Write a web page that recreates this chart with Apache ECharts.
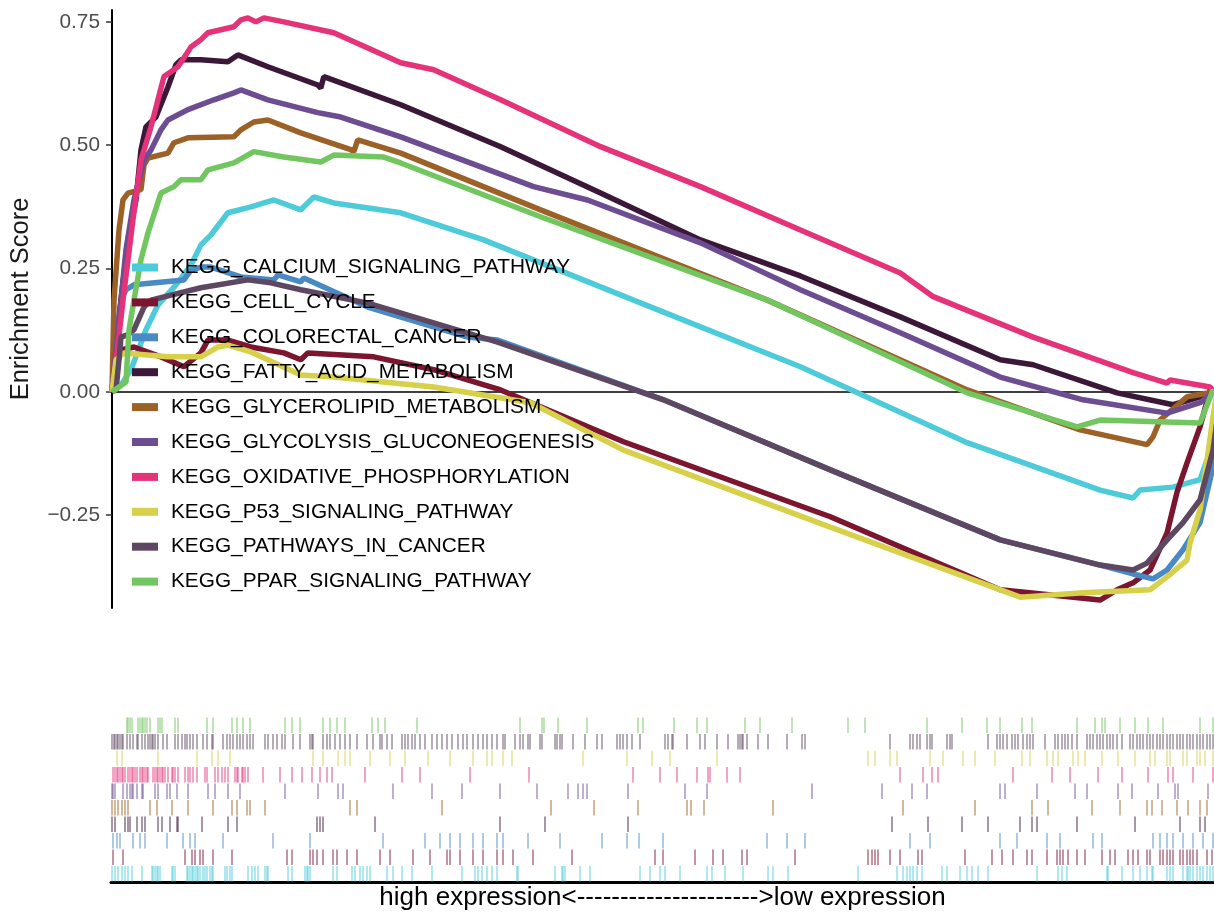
<!DOCTYPE html>
<html>
<head>
<meta charset="utf-8">
<title>GSEA KEGG</title>
<script src="https://cdn.jsdelivr.net/npm/echarts@6/dist/echarts.min.js"></script>
<style>
  html, body { margin: 0; padding: 0; background: #fff; }
  #chart { width: 1214px; height: 914px; }
</style>
</head>
<body>
<div id="chart"></div>
<script>
/* GSEA running enrichment score, 10 KEGG sets + hit rug below */

const FONT = "'Liberation Sans', Arial, Helvetica, sans-serif";

const setNames = [
  "KEGG_CALCIUM_SIGNALING_PATHWAY",
  "KEGG_CELL_CYCLE",
  "KEGG_COLORECTAL_CANCER",
  "KEGG_FATTY_ACID_METABOLISM",
  "KEGG_GLYCEROLIPID_METABOLISM",
  "KEGG_GLYCOLYSIS_GLUCONEOGENESIS",
  "KEGG_OXIDATIVE_PHOSPHORYLATION",
  "KEGG_P53_SIGNALING_PATHWAY",
  "KEGG_PATHWAYS_IN_CANCER",
  "KEGG_PPAR_SIGNALING_PATHWAY",
];
const setColors = [
  "#4ecbd9", "#7b1530", "#4a8ac4", "#3b1738", "#9b6126",
  "#6c4d92", "#e5337a", "#d6d04a", "#5e4760", "#72c660",
];

const yTicks = [-0.25, 0, 0.25, 0.5, 0.75];
const rankMax = 1103;

// running enrichment score: [rank, ES]
const esCalcium = [[0,0],[9,0.014],[19,0.045],[34,0.126],[46,0.176],[64,0.217],[79,0.257],[89,0.298],[99,0.318],[116,0.363],[139,0.375],[162,0.389],[189,0.369],[202,0.395],[222,0.383],[289,0.363],[372,0.308],[522,0.186],[689,0.051],[856,-0.103],[989,-0.199],[1022,-0.215],[1029,-0.199],[1062,-0.193],[1089,-0.178],[1096,-0.138],[1102,-0.118],[1110,0]];
const esCellCycle = [[0,0],[4,0.045],[9,0.085],[22,0.091],[49,0.071],[72,0.051],[89,0.079],[96,0.105],[116,0.105],[139,0.091],[172,0.079],[189,0.065],[196,0.079],[262,0.071],[322,0.045],[389,0.004],[512,-0.101],[719,-0.253],[889,-0.401],[989,-0.422],[1006,-0.401],[1022,-0.387],[1039,-0.361],[1056,-0.286],[1066,-0.203],[1076,-0.144],[1089,-0.071],[1099,0.004],[1103,0]];
const esColorectal = [[0,0],[4,0.105],[9,0.186],[14,0.207],[22,0.217],[72,0.227],[79,0.247],[89,0.253],[99,0.253],[129,0.233],[162,0.227],[166,0.237],[189,0.223],[192,0.231],[256,0.172],[356,0.111],[386,0.105],[552,-0.016],[719,-0.158],[889,-0.300],[989,-0.351],[1022,-0.369],[1042,-0.379],[1056,-0.361],[1072,-0.320],[1089,-0.265],[1102,-0.152],[1110,0]];
const esFattyAcid = [[0,0],[4,0.065],[9,0.186],[16,0.308],[24,0.389],[29,0.490],[34,0.537],[44,0.557],[56,0.618],[64,0.663],[69,0.673],[89,0.673],[116,0.669],[126,0.683],[156,0.659],[206,0.622],[209,0.616],[212,0.639],[289,0.582],[389,0.497],[489,0.403],[589,0.308],[689,0.235],[789,0.152],[889,0.065],[922,0.055],[1006,-0.002],[1062,-0.026],[1069,-0.022],[1089,-0.010],[1103,0]];
const esGlycerolipid = [[0,0],[2,0.186],[7,0.328],[11,0.389],[16,0.403],[29,0.410],[32,0.460],[36,0.474],[56,0.484],[62,0.505],[76,0.515],[122,0.517],[129,0.531],[142,0.547],[156,0.551],[189,0.525],[239,0.491],[242,0.487],[246,0.511],[289,0.484],[429,0.369],[656,0.186],[856,0.004],[969,-0.077],[1036,-0.107],[1042,-0.091],[1049,-0.057],[1076,-0.010],[1103,0]];
const esGlycolysis = [[0,0],[6,0.126],[14,0.288],[22,0.389],[32,0.470],[39,0.490],[49,0.531],[56,0.551],[76,0.572],[102,0.592],[122,0.606],[129,0.612],[156,0.592],[206,0.566],[229,0.557],[289,0.517],[422,0.416],[476,0.389],[589,0.302],[689,0.207],[789,0.120],[889,0.030],[972,-0.016],[1056,-0.043],[1089,-0.022],[1103,0]];
const esOxidative = [[0,0],[2,0.024],[11,0.186],[21,0.349],[29,0.470],[39,0.537],[46,0.592],[52,0.639],[59,0.649],[66,0.659],[74,0.683],[79,0.699],[89,0.714],[96,0.728],[109,0.734],[122,0.740],[129,0.754],[136,0.758],[144,0.750],[152,0.758],[172,0.750],[222,0.728],[289,0.667],[322,0.653],[389,0.592],[489,0.497],[589,0.416],[689,0.328],[789,0.241],[822,0.193],[922,0.111],[1022,0.039],[1056,0.018],[1059,0.024],[1099,0.010],[1103,0]];
const esP53 = [[0,0],[4,0.065],[12,0.079],[56,0.071],[89,0.071],[106,0.091],[116,0.095],[139,0.081],[189,0.034],[222,0.030],[322,0.010],[419,-0.022],[512,-0.118],[719,-0.274],[909,-0.416],[972,-0.407],[1039,-0.401],[1056,-0.375],[1076,-0.341],[1079,-0.306],[1089,-0.239],[1102,-0.051],[1106,0]];
const esPathways = [[0,0],[4,0.004],[7,0.065],[9,0.111],[16,0.116],[22,0.126],[32,0.172],[39,0.186],[49,0.191],[89,0.211],[136,0.227],[159,0.221],[189,0.207],[256,0.180],[386,0.101],[552,-0.016],[719,-0.158],[889,-0.300],[989,-0.351],[1022,-0.361],[1036,-0.347],[1056,-0.300],[1072,-0.265],[1089,-0.219],[1102,-0.118],[1110,0]];
const esPPAR = [[0,0],[14,0.020],[17,0.126],[22,0.186],[29,0.268],[36,0.322],[49,0.403],[62,0.416],[69,0.430],[89,0.430],[96,0.450],[122,0.464],[142,0.487],[172,0.476],[209,0.466],[222,0.480],[272,0.476],[289,0.464],[429,0.355],[656,0.186],[856,-0.002],[966,-0.071],[989,-0.057],[1089,-0.063],[1102,0.004],[1103,0]];

// hit positions (rank) for the rug
const hitsCalcium = [1,4,7,11,14,17,21,31,41,42,44,46,47,49,61,62,64,76,77,79,81,82,84,86,87,89,92,94,96,99,101,102,114,116,119,121,137,141,144,147,154,156,157,177,181,194,196,197,199,222,226,241,244,249,252,256,259,276,282,291,301,321,351,364,367,371,376,381,386,406,407,444,451,452,454,469,479,529,539,549,554,569,596,601,614,632,657,662,677,747,786,792,796,799,802,806,811,831,836,849,856,861,867,877,926,947,951,956,996,997,1011,1022,1029,1036,1041,1042,1056,1059,1062,1072,1076,1077,1079,1082,1086,1089,1092,1096,1099,1102];
const hitsCellCycle = [2,12,74,81,84,89,92,102,121,176,181,199,202,206,212,222,226,236,246,269,279,302,319,336,339,349,362,372,386,392,402,422,461,544,552,584,602,612,631,636,684,757,761,764,767,779,789,807,811,854,881,891,902,916,921,936,946,949,952,957,966,974,991,999,1004,1017,1022,1027,1036,1039,1049,1052,1056,1059,1062,1069,1072,1076,1079,1082,1086,1096,1101];
const hitsColorectal = [2,6,9,22,29,34,56,72,79,84,112,162,199,272,314,329,339,349,362,372,386,392,417,449,491,516,528,552,656,676,694,799,819,889,906,936,949,982,991,1042,1049,1056,1062,1072,1082,1092,1102];
const hitsFattyAcid = [1,4,14,17,19,26,31,34,47,51,59,66,67,91,117,126,206,209,212,264,389,434,517,781,817,851,877,909,921,926,966,1024,1069,1089,1094];
const hitsGlycerolipid = [1,4,7,11,14,17,39,46,61,77,102,121,126,136,139,154,239,246,331,440,483,527,576,580,593,662,792,864,921,937,981,1009,1036,1041,1051,1066,1077,1089,1096];
const hitsGlycolysis = [1,2,4,12,16,19,21,22,26,31,32,44,47,56,59,66,77,97,104,117,129,174,207,227,232,282,321,351,389,426,457,467,472,476,517,574,596,701,771,801,816,889,894,926,964,976,1007,1021,1047,1064,1067,1097];
const hitsOxidative = [2,4,6,7,9,11,12,14,17,19,21,22,24,26,29,31,32,34,36,37,42,44,46,47,49,51,52,54,57,61,62,64,67,74,77,79,82,86,94,96,104,107,111,114,117,124,126,127,131,132,134,137,152,169,181,191,201,209,216,221,254,291,309,359,418,522,549,566,586,597,599,616,629,789,812,821,827,902,941,959,987,1011,1037,1057,1062,1082,1102];
const hitsP53 = [6,11,47,86,101,107,119,202,212,227,234,239,259,279,294,317,339,362,376,381,392,401,472,516,541,559,606,757,764,779,786,819,832,852,864,884,911,919,936,942,947,962,967,974,991,1007,1024,1039,1044,1056,1059,1072,1076,1086,1089,1094,1102];
const hitsPathways = [1,3,4,6,7,9,11,12,16,19,22,26,27,31,34,37,39,41,42,44,47,52,56,64,67,71,74,76,79,82,86,92,96,101,102,112,116,119,122,126,129,132,136,139,142,154,157,162,166,171,174,182,189,199,201,202,212,216,219,224,229,234,239,246,256,262,269,271,276,281,291,294,297,301,304,309,314,321,326,331,336,341,347,352,356,362,367,372,376,381,386,392,394,404,409,412,417,419,429,431,444,446,449,451,462,474,486,491,506,509,512,516,521,529,554,557,561,562,576,589,594,606,617,627,629,631,632,636,647,657,676,691,694,779,799,802,806,809,816,819,821,836,839,841,877,886,889,892,896,901,904,907,912,916,919,922,934,944,947,951,954,957,961,966,976,979,982,986,989,992,996,999,1002,1006,1011,1019,1022,1026,1029,1032,1036,1039,1042,1046,1049,1052,1056,1059,1062,1066,1069,1072,1076,1079,1082,1086,1089,1092,1096,1099,1102];
const hitsPPAR = [16,17,19,21,27,29,31,32,34,36,39,47,49,51,64,67,96,102,121,126,132,139,174,181,189,212,219,226,234,261,267,274,306,409,431,433,447,476,527,532,563,586,596,634,649,681,737,754,816,851,876,889,911,921,966,984,991,994,1009,1024,1037,1052,1089,1102];

const esSeries = [esCalcium, esCellCycle, esColorectal, esFattyAcid, esGlycerolipid,
  esGlycolysis, esOxidative, esP53, esPathways, esPPAR];
const hitSeries = [hitsCalcium, hitsCellCycle, hitsColorectal, hitsFattyAcid, hitsGlycerolipid,
  hitsGlycolysis, hitsOxidative, hitsP53, hitsPathways, hitsPPAR];

const chart = echarts.init(document.getElementById("chart"), null, {renderer: "canvas"});

const lineSeries = setNames.map((name, i) => ({
  name: name,
  type: "line",
  xAxisIndex: 0,
  yAxisIndex: 0,
  data: esSeries[i],
  showSymbol: false,
  clip: true,
  lineStyle: {color: setColors[i], width: 5.5},
  itemStyle: {color: setColors[i]},
  z: 3,
}));

// rug: one row per set, index 0 at the bottom
const rugSeries = setNames.map((name, i) => ({
  name: name,
  type: "custom",
  xAxisIndex: 1,
  yAxisIndex: 1,
  data: hitSeries[i].map(r => [r, i]),
  renderItem: function (params, api) {
    const p = api.coord([api.value(0), api.value(1)]);
    const h = api.size([0, 1])[1];
    return {
      type: "rect",
      shape: {x: p[0] - 1, y: p[1] - h / 2 + 0.5, width: 2, height: h - 1},
      style: {fill: setColors[i], opacity: 0.45},
    };
  },
  clip: true,
}));

chart.setOption({
  animation: false,
  textStyle: {fontFamily: FONT},
  grid: [
    {left: 111, right: 0, top: 10, height: 598},
    {left: 111, right: 0, top: 717, height: 165},
  ],
  legend: {
    data: setNames,
    orient: "vertical",
    left: 127,
    top: 252,
    itemWidth: 26,
    itemHeight: 8,
    itemGap: 13.9,
    icon: "rect",
    textStyle: {fontFamily: FONT, fontSize: 20.8, color: "#000", padding: [0, 0, 0, 8]},
    selectedMode: false,
  },
  xAxis: [
    {
      type: "value", gridIndex: 0, min: 0, max: rankMax,
      axisLine: {show: true, onZero: true, lineStyle: {color: "#000", width: 1.5}},
      axisTick: {show: false}, axisLabel: {show: false}, splitLine: {show: false},
    },
    {
      type: "value", gridIndex: 1, min: 0, max: rankMax,
      name: "high expression<--------------------->low expression",
      nameLocation: "middle", nameGap: 3,
      nameTextStyle: {fontFamily: FONT, fontSize: 26, color: "#000", verticalAlign: "top"},
      axisLine: {show: true, lineStyle: {color: "#000", width: 3}},
      axisTick: {show: false}, axisLabel: {show: false}, splitLine: {show: false},
    },
  ],
  yAxis: [
    {
      type: "value", gridIndex: 0, min: -0.438, max: 0.774,
      name: "Enrichment Score", nameLocation: "middle", nameGap: 78,
      nameTextStyle: {fontFamily: FONT, fontSize: 25.5, color: "#1a1a1a", padding: [0, 0, 0, 20]},
      axisLine: {show: true, onZero: false, lineStyle: {color: "#000", width: 2}},
      axisTick: {show: true, length: 6, lineStyle: {color: "#333", width: 1.5}, customValues: yTicks},
      axisLabel: {
        fontFamily: FONT, fontSize: 20.8, color: "#4d4d4d", margin: 12,
        customValues: yTicks,
        formatter: v => (v < 0 ? "\u2212" : "") + Math.abs(v).toFixed(2),
      },
      splitLine: {show: false},
    },
    {
      type: "category", gridIndex: 1, data: setNames,
      axisLine: {show: false}, axisTick: {show: false}, axisLabel: {show: false},
      splitLine: {show: false},
    },
  ],
  series: lineSeries.concat(rugSeries),
});
</script>
</body>
</html>
